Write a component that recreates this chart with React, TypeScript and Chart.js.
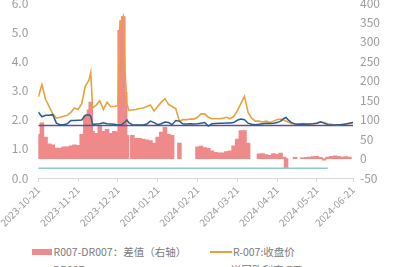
import React, { useEffect, useRef } from 'react';
import { Chart, registerables } from 'chart.js';
Chart.register(...registerables);

// trading-day index of each sample
const xIndex = [0, 2, 4, 6, 8, 10, 12, 14, 16, 18, 20, 22, 24, 26, 28, 29, 30, 32, 34, 36, 38, 40, 42, 44, 45, 46, 47, 48, 49, 50, 52, 54, 56, 58, 60, 62, 64, 66, 68, 70, 72, 74, 76, 78, 80, 82, 84, 86, 88, 90, 92, 94, 96, 98, 100, 102, 104, 106, 108, 110, 112, 114, 116, 118, 120, 122, 124, 126, 128, 130, 132, 134, 136, 137, 138, 140, 142, 144, 146, 148, 150, 152, 154, 156, 158, 160, 162, 164, 166, 168, 170, 172, 174];

const r007 = [2.78, 3.2, 2.7, 2.45, 2.2, 2.05, 2.08, 2.12, 2.15, 2.25, 2.4, 2.35, 2.55, 3.15, 3.35, 3.62, 2.4, 2.5, 2.65, 2.35, 2.6, 2.45, 2.45, 2.48, 5.15, 5.4, 5.55, 3.6, 2.55, 2.33, 2.33, 2.35, 2.38, 2.4, 2.45, 2.5, 2.3, 2.45, 2.6, 2.72, 2.52, 2.45, 2.38, 1.95, 2.0, 2.0, 2.02, 2.02, 2.08, 2.2, 2.2, 2.08, 2.03, 2.03, 2.03, 2.05, 2.08, 2.03, 2.1, 2.3, 2.55, 2.8, 2.25, 2.05, 1.95, 1.95, 1.92, 1.95, 1.9, 1.95, 2.0, 2.02, 1.98, 1.95, 1.92, 1.87, 1.85, 1.85, 1.87, 1.86, 1.85, 1.86, 1.88, 1.92, 1.9, 1.86, 1.84, 1.82, 1.82, 1.84, 1.85, 1.87, 1.9];

const dr007 = [2.26, 2.1, 2.15, 2.15, 2.17, 1.88, 1.83, 1.83, 1.86, 1.97, 1.97, 1.98, 1.99, 2.15, 2.17, 2.12, 1.84, 1.85, 1.86, 1.89, 1.86, 1.85, 1.84, 1.82, 1.82, 1.83, 1.87, 1.92, 1.99, 1.9, 1.83, 1.82, 1.82, 1.82, 1.85, 1.95, 1.9, 1.83, 1.86, 1.92, 1.9, 1.83, 1.97, 1.95, 1.85, 1.85, 1.86, 1.85, 1.86, 1.88, 1.9, 1.78, 1.86, 1.87, 1.88, 1.88, 1.89, 1.89, 1.9, 1.98, 2.02, 2.0, 1.88, 1.84, 1.83, 1.84, 1.86, 1.88, 1.87, 1.88, 1.9, 1.95, 2.05, 2.08, 2.0, 1.9, 1.85, 1.84, 1.85, 1.84, 1.85, 1.86, 1.88, 1.93, 1.88, 1.83, 1.82, 1.82, 1.83, 1.83, 1.85, 1.88, 1.9];

const spread = [62, 92, 55, 38, 35, 27, 27, 30, 30, 33, 35, 34, 62, 110, 125, 145, 70, 65, 85, 70, 75, 65, 70, 68, 330, 355, 365, 170, 60, null, 60, 52, 52, 50, 48, 46, 40, 55, 68, 80, 62, 60, null, 40, null, null, null, null, 30, 32, 28, 26, 20, 16, 15, 15, 18, 20, 33, 50, 72, 72, 40, null, null, 12, 13, 10, 8, 13, 11, 14, 4, -25, null, null, 3, null, 2, 3, 4, 5, 6, 3, -4, 4, 6, 7, 6, 4, 5, 4, null];

const repoX = [0, 174];
const repoY = [1.8, 1.8];
const tealX = [0, 160];
const tealY = [-25, -25];

const tickIdx = [0, 22, 44, 66, 88, 110, 132, 154, 174];
const tickLabels = ['2023-10-21', '2023-11-21', '2023-12-21', '2024-01-21', '2024-02-21', '2024-03-21', '2024-04-21', '2024-05-21', '2024-06-21'];

const legendNames = ['R007-DR007：差值（右轴）', 'R-007:收盘价', 'DR007', '逆回购利率:7天'];

const C_RED = '#f08a8a';
const C_ORANGE = '#e9a23b';
const C_NAVY = '#2b5c8e';
const C_PURPLE = '#5b4f9e';
const C_TEAL = '#8fcac6';
const FONT = "'Noto Sans CJK SC', 'Noto Sans', sans-serif";
const TICK = '#9c9c9c';

export default function App() {
  const ref = useRef<HTMLCanvasElement>(null);
  useEffect(() => {
    const pts = (xs: number[], ys: (number | null)[]) => xs.map((x, k) => ({ x, y: ys[k] }));
    const chart = new Chart(ref.current!, {
      type: 'line',
      data: {
        datasets: [
          { type: 'bar', label: legendNames[0], data: pts(xIndex, spread) as any, yAxisID: 'y1', backgroundColor: C_RED, barThickness: 3.9, order: 10 },
          { type: 'line', label: legendNames[1], data: pts(xIndex, r007) as any, yAxisID: 'y', borderColor: C_ORANGE, borderWidth: 1.6, pointRadius: 0, order: 2 },
          { type: 'line', label: legendNames[2], data: pts(xIndex, dr007) as any, yAxisID: 'y', borderColor: C_NAVY, borderWidth: 1.5, pointRadius: 0, order: 1 },
          { type: 'line', label: legendNames[3], data: pts(repoX, repoY) as any, yAxisID: 'y', borderColor: C_PURPLE, borderWidth: 1.5, pointRadius: 0, order: 3 },
          { type: 'line', label: 'teal', data: pts(tealX, tealY) as any, yAxisID: 'y1', borderColor: C_TEAL, borderWidth: 1.5, pointRadius: 0, order: 4 },
        ],
      },
      options: {
        animation: false,
        responsive: true,
        maintainAspectRatio: false,
        layout: { padding: { top: 23, left: 0, right: 0, bottom: 0 } },
        plugins: { legend: { display: false }, tooltip: { enabled: false } },
        scales: {
          x: {
            type: 'linear', min: 0, max: 174, offset: false,
            afterBuildTicks: (s: any) => { s.ticks = tickIdx.map((v) => ({ value: v })); },
            afterFit: (s: any) => { s.height = 52; },
            ticks: {
              autoSkip: false, minRotation: 45, maxRotation: 45, padding: 2,
              color: TICK, font: { size: 10, family: FONT },
              callback: (v: any) => { const k = tickIdx.indexOf(Number(v)); return k >= 0 ? tickLabels[k] : ''; },
            },
            grid: { display: true, drawOnChartArea: false, drawTicks: true, tickLength: 4, color: '#d9d9d9', offset: false },
            border: { display: true, color: '#d9d9d9' },
          },
          y: {
            position: 'left', min: 0, max: 6,
            afterFit: (s: any) => { s.width = 38; },
            ticks: { stepSize: 1, padding: 10, color: TICK, font: { size: 12, family: FONT }, callback: (v: any) => Number(v).toFixed(1) },
            grid: { display: false, drawTicks: false },
            border: { display: false },
          },
          y1: {
            position: 'right', min: -50, max: 400,
            afterFit: (s: any) => { s.width = 40; },
            ticks: { stepSize: 50, padding: 7, color: TICK, font: { size: 12, family: FONT } },
            grid: { display: false, drawTicks: false },
            border: { display: false },
          },
        },
      },
    });
    return () => chart.destroy();
  }, []);

  const txt: React.CSSProperties = { position: 'absolute', fontFamily: FONT, fontSize: '10.5px', lineHeight: '14px', color: '#7a7a7a', whiteSpace: 'nowrap' };
  return (
    <div style={{ position: 'fixed', left: 0, top: 0, width: 393, height: 267, overflow: 'hidden', background: '#fff' }}>
      <div style={{ position: 'absolute', left: 0, top: -20, width: 393, height: 250 }}>
        <canvas ref={ref} />
      </div>
      <div style={{ position: 'absolute', left: 32, top: 249, width: 20, height: 6, background: C_RED }} />
      <div style={{ ...txt, left: 53.5, top: 245 }}>{legendNames[0]}</div>
      <div style={{ position: 'absolute', left: 210, top: 251, width: 22, height: 2, background: C_ORANGE }} />
      <div style={{ ...txt, left: 233, top: 245 }}>{legendNames[1]}</div>
      <div style={{ position: 'absolute', left: 32, top: 269, width: 20, height: 2, background: C_NAVY }} />
      <div style={{ ...txt, left: 53, top: 263 }}>{legendNames[2]}</div>
      <div style={{ position: 'absolute', left: 210, top: 269, width: 22, height: 2, background: C_PURPLE }} />
      <div style={{ ...txt, left: 231, top: 263 }}>{legendNames[3]}</div>
    </div>
  );
}
